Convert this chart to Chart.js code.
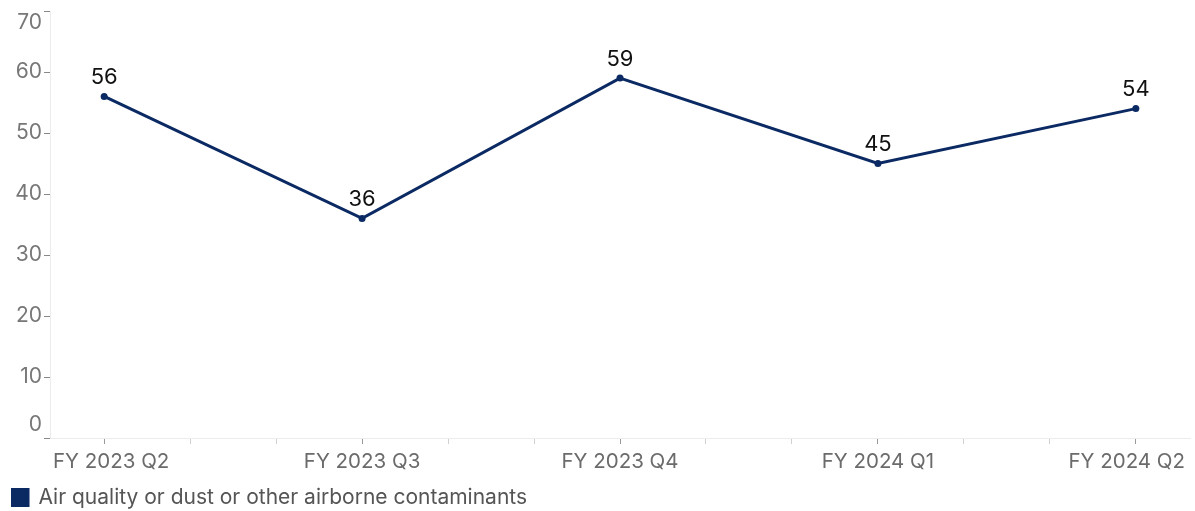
<!DOCTYPE html>
<html>
<head>
<meta charset="utf-8">
<title>Air quality complaints by quarter</title>
<script src="https://cdn.jsdelivr.net/npm/chart.js@4.4.1/dist/chart.umd.min.js"></script>
<style>
  html, body { margin: 0; padding: 0; background: #fff; }
  #wrap { width: 1195px; height: 511px; }
</style>
</head>
<body>
<div id="wrap"><canvas id="trend"></canvas></div>
<script>
const quarters = ['FY 2023 Q2', 'FY 2023 Q3', 'FY 2023 Q4', 'FY 2024 Q1', 'FY 2024 Q2'];
const counts = [56, 36, 59, 45, 54];
const yTicks = [0, 10, 20, 30, 40, 50, 60, 70];
const seriesName = 'Air quality or dust or other airborne contaminants';

const NAVY = '#0b2a63';
const FONT = 'Inter, "Open Sans", sans-serif';

// value labels above each point
const valueLabels = {
  id: 'valueLabels',
  afterDatasetsDraw(chart) {
    const ctx = chart.ctx;
    const meta = chart.getDatasetMeta(0);
    ctx.save();
    ctx.font = '22px ' + FONT;
    ctx.fillStyle = '#111';
    ctx.textAlign = 'center';
    ctx.textBaseline = 'middle';
    meta.data.forEach((pt, i) => {
      ctx.fillText(String(counts[i]), pt.x, pt.y - 19);
    });
    ctx.restore();
  }
};

// axis labels, kept inside the plot area at both ends
const axisLabels = {
  id: 'axisLabels',
  afterDraw(chart) {
    const { x, y } = chart.scales;
    const area = chart.chartArea;
    const ctx = chart.ctx;
    ctx.save();
    ctx.font = '21px ' + FONT;
    ctx.fillStyle = '#777';
    ctx.textAlign = 'right';
    ctx.textBaseline = 'middle';
    yTicks.forEach(v => {
      let py = y.getPixelForValue(v);
      py = Math.min(Math.max(py, area.top + 12), area.bottom - 13);
      ctx.fillText(String(v), 42, py);
    });

    ctx.font = '20.5px ' + FONT;
    ctx.fillStyle = '#6b6b6b';
    ctx.textAlign = 'left';
    quarters.forEach((q, i) => {
      const w = ctx.measureText(q).width;
      let px = x.getPixelForValue(i) - w / 2;
      px = Math.min(Math.max(px, area.left + 3), area.right - 5 - w);
      ctx.fillText(q, px, area.bottom + 24);
    });
    ctx.restore();
  }
};

const isWhole = v => Math.abs(v - Math.round(v)) < 1e-6;

new Chart(document.getElementById('trend'), {
  type: 'line',
  data: {
    datasets: [{
      label: seriesName,
      data: counts.map((c, i) => ({ x: i, y: c })),
      borderColor: NAVY,
      backgroundColor: NAVY,
      borderWidth: 3,
      pointRadius: 3.5,
      pointBackgroundColor: NAVY,
      pointBorderWidth: 0,
      tension: 0
    }]
  },
  options: {
    responsive: true,
    maintainAspectRatio: false,
    animation: false,
    // legend is allowed to run a few pixels past the bottom edge
    layout: { padding: { top: 11, right: 5, left: 11, bottom: -7 } },
    scales: {
      x: {
        type: 'linear',
        min: -0.21,
        max: 4.21,
        afterBuildTicks(scale) {
          const t = [];
          for (let i = 0; i <= 12; i++) t.push({ value: i / 3 });
          scale.ticks = t;
        },
        afterFit(scale) {
          scale.height = 48;
          scale.paddingLeft = 0;
          scale.paddingRight = 0;
        },
        ticks: { autoSkip: false, display: false },
        grid: {
          drawOnChartArea: false,
          drawTicks: true,
          tickLength: 6,
          tickWidth: 1,
          tickColor: c => (c.tick && isWhole(c.tick.value)) ? '#999' : '#d0d0d0'
        },
        border: { color: '#ececec', width: 1 }
      },
      y: {
        min: 0,
        max: 70,
        ticks: { stepSize: 10, display: false },
        afterFit(scale) { scale.width = 39; },
        grid: {
          drawOnChartArea: false,
          drawTicks: true,
          tickLength: 6,
          tickColor: '#888'
        },
        border: { color: '#ececec', width: 1 }
      }
    },
    plugins: {
      tooltip: { enabled: false },
      legend: {
        position: 'bottom',
        align: 'start',
        labels: {
          boxWidth: 16,
          boxHeight: 16,
          padding: 1,
          color: '#555',
          font: { family: FONT, size: 21 }
        }
      }
    }
  },
  plugins: [valueLabels, axisLabels]
});
</script>
</body>
</html>
